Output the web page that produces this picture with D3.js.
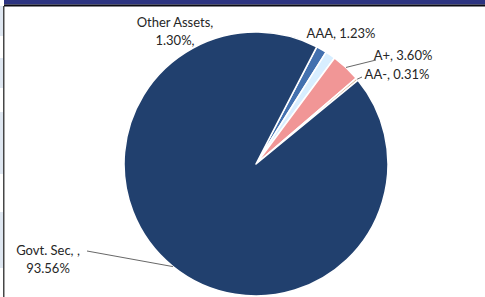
<!DOCTYPE html>
<html>
<head>
<meta charset="utf-8">
<script src="https://cdn.jsdelivr.net/npm/d3@7"></script>
<style>
  body { margin: 0; background: #fff; }
  svg { display: block; }
  .lbl { font-family: Lato, "Liberation Sans", sans-serif; font-size: 13px; fill: #262626; }
</style>
</head>
<body>
<svg id="chart"></svg>
<script>
// slice data, clockwise from the first slice
const categories = ["Other Assets", "AAA", "A+", "AA-", "Govt. Sec"];
const shares = [1.30, 1.23, 3.60, 0.31, 93.56];
const labelLines = [["Other Assets,", "1.30%,"], ["AAA, 1.23%"], ["A+, 3.60%"], ["AA-, 0.31%"], ["Govt. Sec, ,", "93.56%"]];
const sliceColors = ["#3d68a3", "#c9def2", "#e08c8c", "#c4a183", "#1f3c66"];

const width = 485, height = 297;
const cx = 256, cy = 164, radius = 132;
const firstAngle = 27.4 * Math.PI / 180;

// label anchor spots (text centre) and whether a leader line is drawn
const labelSpots = [
    { x: 175, y: 22, leader: false },
    { x: 341, y: 33, leader: false },
    { x: 403, y: 55, leader: true, lx: 376, ly: 60 },
    { x: 397, y: 74, leader: true, lx: 362, ly: 77 },
    { x: 48, y: 250, leader: true, lx: 87, ly: 251 }
];

const svg = d3.select("#chart")
    .attr("width", width)
    .attr("height", height);

// frame: navy band on top, thin rule below it, light strip at the left
svg.append("rect").attr("x", 4).attr("y", 0).attr("width", width - 4).attr("height", 4.5).attr("fill", "#2d3481");
svg.append("rect").attr("x", 4).attr("y", 4.5).attr("width", width - 4).attr("height", 2).attr("fill", "#0b0b14");
[[6, 30], [58, 30], [112, 62], [212, 56]].forEach(s => {
    svg.append("rect").attr("x", 0).attr("y", s[0]).attr("width", 3.2).attr("height", s[1]).attr("fill", "#dfe7f1");
});
svg.append("rect").attr("x", 3.2).attr("y", 6).attr("width", 1.2).attr("height", height - 6).attr("fill", "#1a1a1a");

const data = categories.map((c, i) => ({ name: c, value: shares[i], color: sliceColors[i], i: i }));

const pie = d3.pie()
    .sort(null)
    .value(d => d.value)
    .startAngle(firstAngle)
    .endAngle(firstAngle + 2 * Math.PI);

const arcs = pie(data);
const arc = d3.arc().innerRadius(0).outerRadius(radius);

// gradients giving the soft bevelled rim
const defs = svg.append("defs");
data.forEach(d => {
    const g = defs.append("radialGradient")
        .attr("id", "grad" + d.i)
        .attr("gradientUnits", "userSpaceOnUse")
        .attr("cx", cx).attr("cy", cy).attr("r", radius);
    const base = d3.color(d.color);
    g.append("stop").attr("offset", "0%").attr("stop-color", base.darker(0.1));
    g.append("stop").attr("offset", "88%").attr("stop-color", base);
    g.append("stop").attr("offset", "97%").attr("stop-color", base.brighter(0.45));
    g.append("stop").attr("offset", "100%").attr("stop-color", base.brighter(0.2));
});

const pieG = svg.append("g").attr("transform", `translate(${cx},${cy})`);

pieG.selectAll("path.slice")
    .data(arcs)
    .enter()
    .append("path")
    .attr("class", "slice")
    .attr("d", arc)
    .attr("fill", d => `url(#grad${d.data.i})`)
    .attr("stroke", "#ffffff")
    .attr("stroke-width", 1.6)
    .attr("stroke-linejoin", "round");

// leader lines from each slice's rim to its label
arcs.forEach((a, i) => {
    const s = labelSpots[i];
    if (!s.leader) return;
    const mid = (a.startAngle + a.endAngle) / 2;
    const px = cx + radius * Math.sin(mid);
    const py = cy - radius * Math.cos(mid);
    svg.append("line")
        .attr("x1", px).attr("y1", py)
        .attr("x2", s.lx).attr("y2", s.ly)
        .attr("stroke", "#404040")
        .attr("stroke-width", 0.8);
});

// labels
labelLines.forEach((lines, i) => {
    const s = labelSpots[i];
    const t = svg.append("text")
        .attr("class", "lbl")
        .attr("text-anchor", "middle");
    lines.forEach((ln, k) => {
        t.append("tspan")
            .attr("x", s.x)
            .attr("y", s.y + k * 18)
            .attr("dy", "0.35em")
            .text(ln);
    });
});
</script>
</body>
</html>
